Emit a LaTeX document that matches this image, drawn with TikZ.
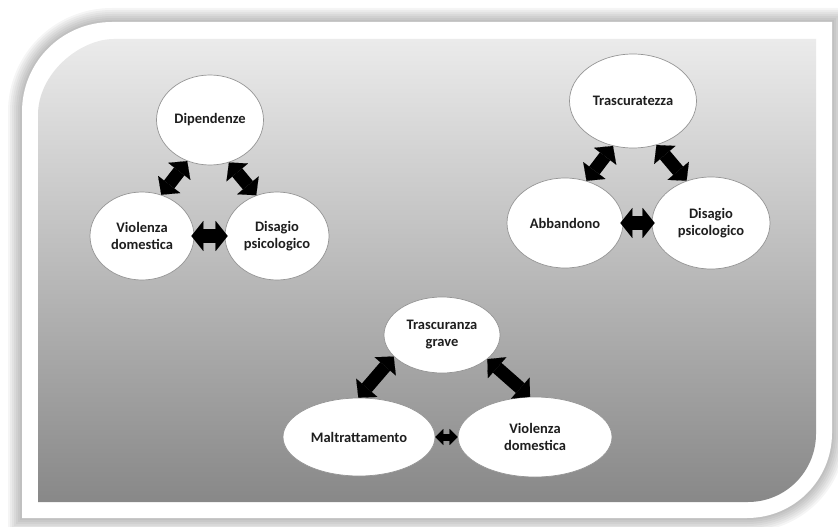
\documentclass[tikz,border=0pt]{standalone}
\usepackage{fontspec}
\setmainfont{Carlito}
\usetikzlibrary{shapes.geometric,arrows.meta}

\definecolor{bgtop}{HTML}{EBEBEB}
\definecolor{bgmid}{HTML}{ADADAD}
\definecolor{bgbot}{HTML}{888888}
\definecolor{rim}{HTML}{959595}
\definecolor{txt}{HTML}{1E1E1E}

\tikzset{
  bubble/.style={ellipse, draw=rim, line width=0.7pt, fill=white, inner sep=0pt,
    align=center, text=txt, font=\fontsize{14.5}{17}\selectfont\bfseries},
  bigarrow/.style={line width=13pt, >={Triangle[length=13pt,width=28pt,line width=0.1pt]}, <->},
  midarrow/.style={line width=14pt, >={Triangle[length=12pt,width=30pt,line width=0.1pt]}, <->,
    shorten <=-3pt, shorten >=-3pt},
  smallarrow/.style={line width=7pt, >={Triangle[length=8pt,width=16pt,line width=0.1pt]}, <->},
}

\begin{document}
\begin{tikzpicture}[x=1pt, y=-1pt]
    \useasboundingbox (0,0) rectangle (838,527);
    % soft shadow of the frame
    \foreach \w in {4,8,...,28}
      \draw[black, opacity=0.04, line width=\w pt] (22,112) .. controls (22,62) and (62,22) .. (112,22) -- (832,22) -- (832,433) .. controls (832,480) and (794,518) .. (747,518) -- (22,518) -- cycle;
    \fill[white] (22,112) .. controls (22,62) and (62,22) .. (112,22) -- (832,22) -- (832,433) .. controls (832,480) and (794,518) .. (747,518) -- (22,518) -- cycle;
    \shade[top color=bgtop, middle color=bgmid, bottom color=bgbot] (38,115) .. controls (38,73) and (80,39) .. (114,39) -- (816,39) -- (816,434) .. controls (816,471) and (786,502) .. (748,502) -- (38,502) -- cycle;

    % first triangle
    \node[bubble, minimum width=107pt, minimum height=90pt] (dip) at (210,120) {Dipendenze};
    \node[bubble, minimum width=104pt, minimum height=88pt] (vio1) at (142,236) {Violenza\\domestica};
    \node[bubble, minimum width=104pt, minimum height=88pt] (dis1) at (277,236) {Disagio\\psicologico};
    \draw[bigarrow] (vio1.65) -- (dip.241);
    \draw[bigarrow] (dip.294) -- (dis1.117);
    \draw[midarrow] (vio1.east) -- (dis1.west);

    % second triangle
    \node[bubble, minimum width=127pt, minimum height=94pt] (tra) at (633,101) {Trascuratezza};
    \node[bubble, minimum width=116pt, minimum height=90pt] (abb) at (565,223) {Abbandono};
    \node[bubble, minimum width=118pt, minimum height=92pt] (dis2) at (711,223) {Disagio\\psicologico};
    \draw[bigarrow] (abb.63) -- (tra.246);
    \draw[bigarrow] (tra.298) -- (dis2.120);
    \draw[midarrow] (abb.east) -- (dis2.west);

    % third triangle
    \node[bubble, minimum width=116pt, minimum height=76pt] (tg) at (442,335) {Trascuranza\\grave};
    \node[bubble, minimum width=152pt, minimum height=78pt] (mal) at (359,437) {Maltrattamento};
    \node[bubble, minimum width=154pt, minimum height=80pt] (vio3) at (535,437) {Violenza\\domestica};
    \draw[bigarrow] (mal.91) -- (tg.204);
    \draw[bigarrow] (tg.332) -- (vio3.97);
    \draw[smallarrow] (mal.east) -- (vio3.west);

\end{tikzpicture}
\end{document}
